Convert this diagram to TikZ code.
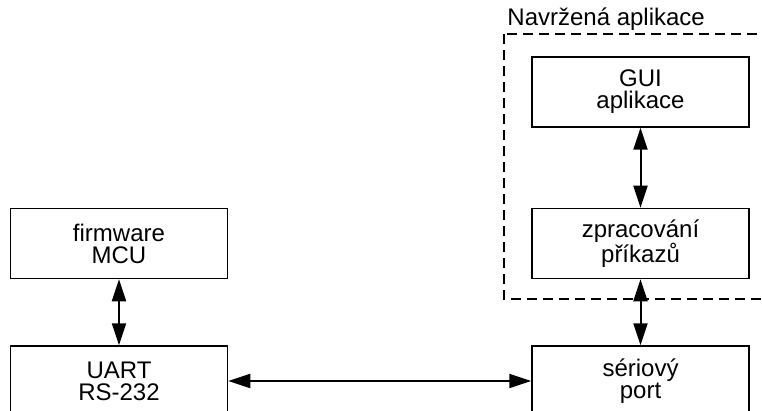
\documentclass[tikz,border=0pt]{standalone}
\usepackage{fontspec}
\setmainfont{Liberation Sans}
\usetikzlibrary{arrows.meta,positioning}

\tikzset{
  blok/.style={draw, line width=1.5pt, minimum width=217pt, minimum height=70pt,
    align=center, inner sep=0pt, font=\fontsize{24}{22}\selectfont},
  spoj/.style={{Triangle[length=22pt,width=14pt]}-{Triangle[length=22pt,width=14pt]}, line width=2pt},
  ramec/.style={line width=1.6pt, dash pattern=on 10pt off 6pt}
}

\begin{document}
\begin{tikzpicture}[x=1pt, y=1pt, node distance=66pt]

  \clip (0,0) rectangle (762,-411);% page size

  % application side
  \node[blok] (cmd) at (640.5,-243.5) {zpracování\\příkazů};
  \node[blok, above=80pt of cmd] (gui) {GUI\\aplikace};
  \node[blok, below=of cmd] (port) {sériový\\port};

  % MCU side
  \node[blok, left=303pt of cmd] (fw) {firmware\\MCU};
  \node[blok, below=of fw] (uart) {UART\\RS-232};

  % links
  \draw[spoj] (gui) -- (cmd);
  \draw[spoj] (cmd) -- (port);
  \draw[spoj] (fw) -- (uart);
  \draw[spoj] (uart) -- (port);

  % dashed frame round the application
  \coordinate (rnw) at ([shift={(-27,22)}]gui.north west);
  \coordinate (rse) at ([shift={(40,-20)}]cmd.south east);
  \draw[ramec] (rnw) rectangle (rse);
  \node[anchor=base west, inner sep=0pt, font=\fontsize{24}{22}\selectfont]
    (nazev) at ([shift={(3,9)}]rnw) {Navržená aplikace};

\end{tikzpicture}
\end{document}
